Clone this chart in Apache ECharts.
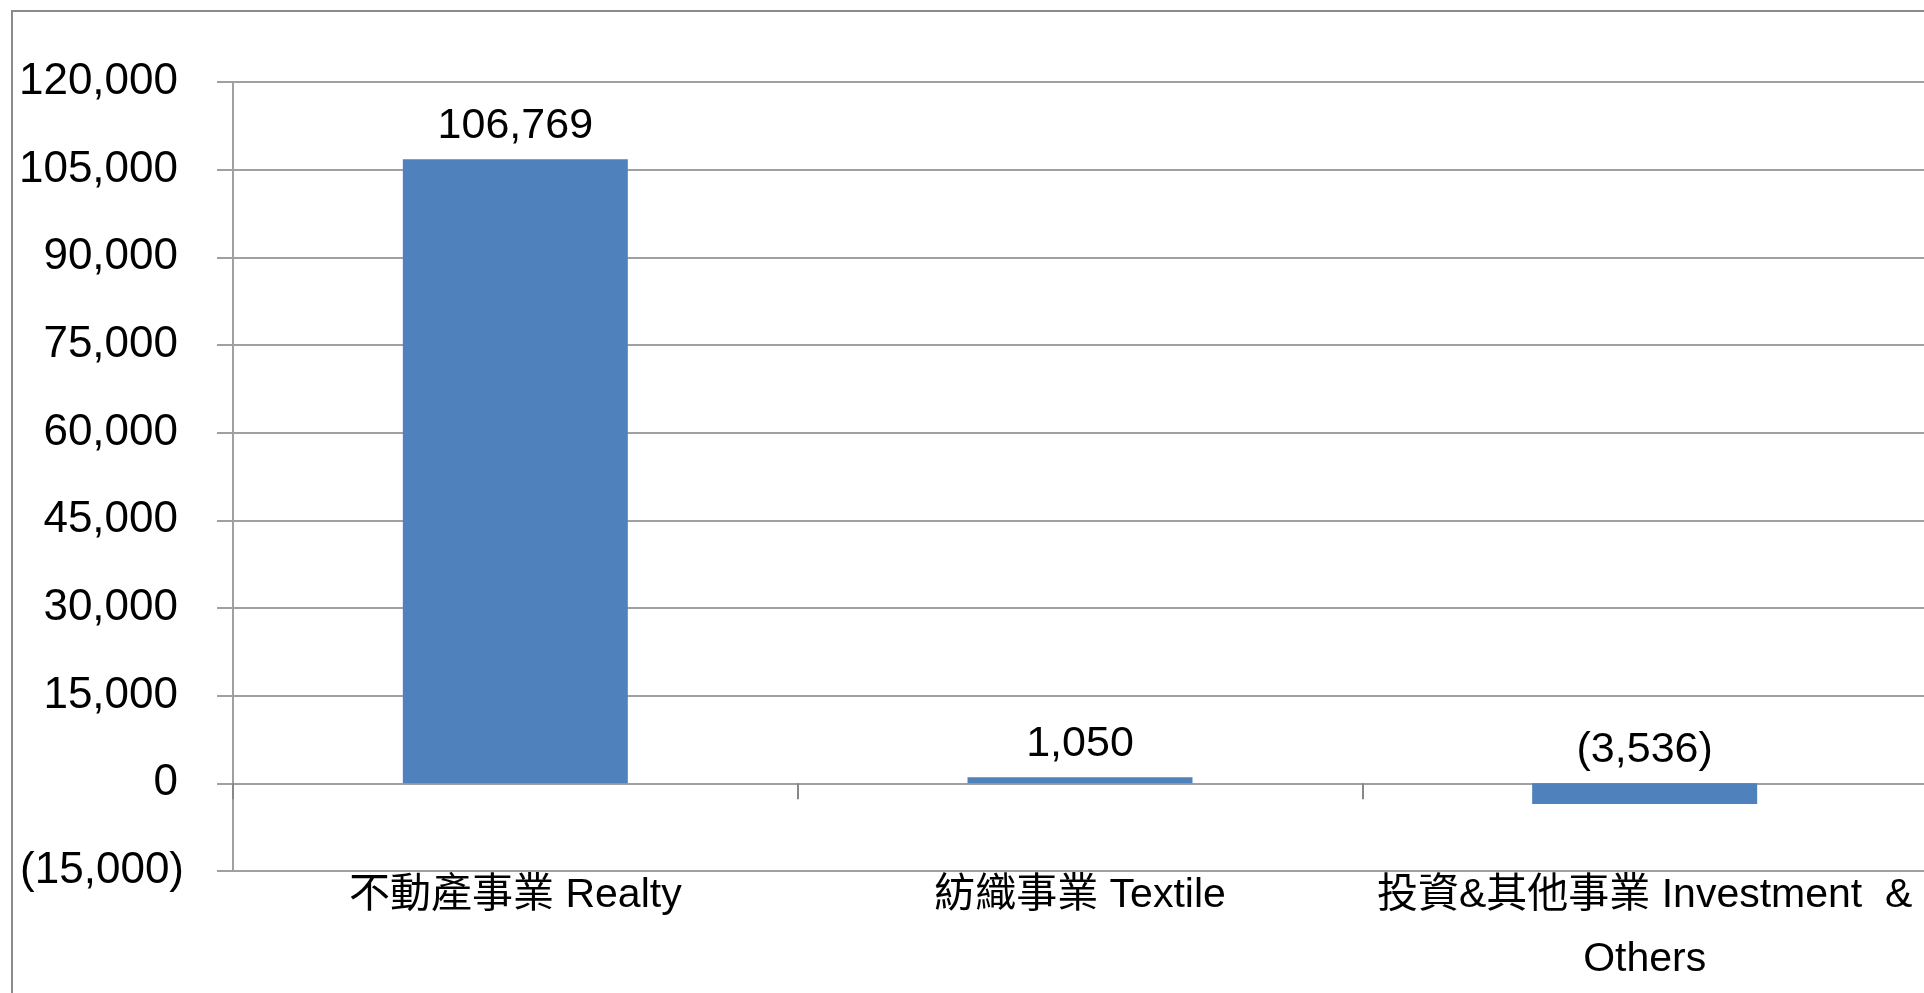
<!DOCTYPE html>
<html>
<head>
<meta charset="utf-8">
<script src="https://cdn.jsdelivr.net/npm/echarts@6/dist/echarts.min.js"></script>
<style>
html,body{margin:0;padding:0;background:#fff;}
#chart{width:1924px;height:993px;}
</style>
</head>
<body>
<div id="chart"></div>
<script>
const categories = ['不動產事業 Realty', '紡織事業 Textile', '投資&其他事業 Investment  &\nOthers'];
const values = [106769, 1050, -3536];
const yMin = -15000;
const yMax = 120000;
const yInterval = 15000;

function fmt(v) {
  const s = Math.abs(v).toLocaleString('en-US');
  return v < 0 ? '(' + s + ')' : s;
}

const chart = echarts.init(document.getElementById('chart'), null, {renderer: 'canvas'});
const gray = '#a0a0a0';
const latin = '"Liberation Sans", Arial, "Noto Sans CJK TC", sans-serif';

chart.setOption({
  backgroundColor: '#fff',
  animation: false,
  grid: {left: 233, top: 82, width: 1694, height: 789, containLabel: false, outerBoundsMode: 'none'},
  xAxis: {
    type: 'category',
    data: categories,
    axisLine: {show: true, onZero: true, lineStyle: {color: gray, width: 2}},
    axisTick: {show: true, length: 16, alignWithLabel: false, lineStyle: {color: '#888', width: 2}},
    axisLabel: {
      interval: 0,
      margin: -7,
      fontSize: 41,
      lineHeight: 64,
      color: '#000',
      fontFamily: latin,
      hideOverlap: false
    },
    splitLine: {show: false}
  },
  yAxis: {
    type: 'value',
    min: yMin,
    max: yMax,
    interval: yInterval,
    axisLine: {show: true, lineStyle: {color: gray, width: 2}},
    axisTick: {show: true, length: 16, lineStyle: {color: gray, width: 2}},
    splitLine: {show: true, lineStyle: {color: gray, width: 2}},
    axisLabel: {
      margin: 49,
      color: '#000',
      fontSize: 44,
      fontFamily: latin,
      formatter: function (v) {
        return v < 0 ? '{n|' + fmt(v) + '}' : '{p|' + fmt(v) + '}';
      },
      rich: {
        p: {fontSize: 44, fontFamily: latin, color: '#000', padding: [0, 6, 0, 0]},
        n: {fontSize: 44, fontFamily: latin, color: '#000'}
      }
    }
  },
  graphic: [{
    type: 'rect',
    silent: true,
    z: 100,
    shape: {x: 12, y: 11, width: 3000, height: 3000},
    style: {fill: 'none', stroke: '#8a8a8a', lineWidth: 2}
  }],
  series: [{
    type: 'bar',
    data: values,
    barWidth: 225,
    itemStyle: {color: '#4f81bd'},
    label: {
      show: true,
      position: 'top',
      distance: 12,
      fontSize: 43,
      color: '#000',
      fontFamily: latin,
      formatter: function (p) { return fmt(p.value); }
    }
  }]
});
</script>
</body>
</html>
